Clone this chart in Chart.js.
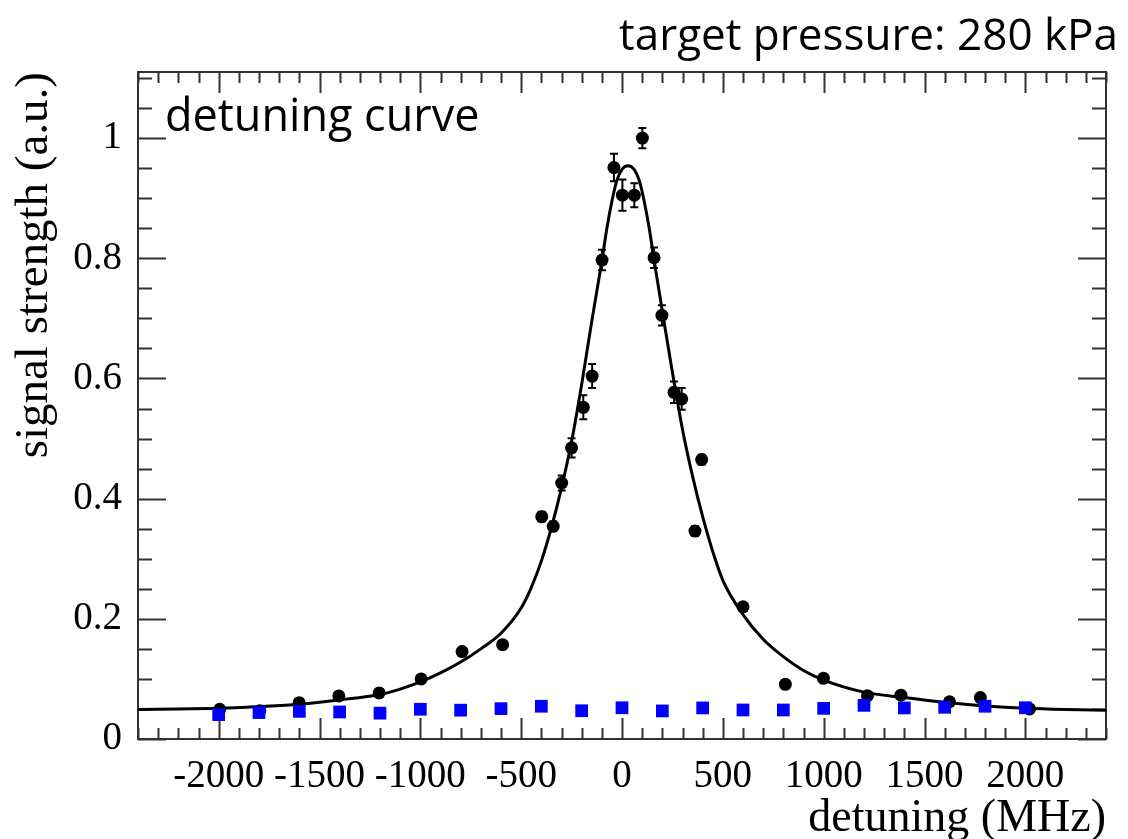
<!DOCTYPE html>
<html>
<head>
<meta charset="utf-8">
<script src="https://cdn.jsdelivr.net/npm/chart.js@4.4.0/dist/chart.umd.min.js"></script>
<style>
  html, body { margin: 0; padding: 0; background: #fff; }
  #wrap { width: 1128px; height: 839px; }
</style>
</head>
<body>
<div id="wrap"><canvas id="chart" width="1128" height="839"></canvas></div>
<script>
// measured points (black, with errors)
const blackFreq = [-1995, -1796, -1601, -1404, -1204, -996, -793, -592, -398, -341, -299, -250, -192, -148, -99, -40, 2, 61, 101, 159, 198, 258, 296, 362, 395, 600, 810, 999, 1217, 1383, 1624, 1777, 2021];
const blackSignal = [0.0495, 0.047, 0.0605, 0.0717, 0.0767, 0.100, 0.1455, 0.157, 0.370, 0.354, 0.426, 0.4845, 0.552, 0.604, 0.797, 0.951, 0.905, 0.905, 1.000, 0.801, 0.705, 0.577, 0.566, 0.346, 0.465, 0.220, 0.091, 0.101, 0.072, 0.073, 0.062, 0.069, 0.050];
const blackErr = [0.005, 0.005, 0.005, 0.005, 0.005, 0.006, 0.006, 0.006, 0.008, 0.008, 0.0125, 0.016, 0.02, 0.02, 0.017, 0.023, 0.026, 0.02, 0.017, 0.017, 0.017, 0.018, 0.018, 0.008, 0.008, 0.006, 0.006, 0.006, 0.005, 0.005, 0.005, 0.005, 0.005];

// background points (blue squares)
const blueFreq = [-2000, -1800, -1600, -1400, -1200, -1000, -800, -600, -400, -200, 0, 200, 400, 600, 800, 1000, 1200, 1400, 1600, 1800, 2000];
const blueSignal = [0.0405, 0.044, 0.046, 0.045, 0.043, 0.0495, 0.048, 0.0505, 0.0545, 0.047, 0.052, 0.0467, 0.0517, 0.0483, 0.0483, 0.051, 0.056, 0.0517, 0.0528, 0.0545, 0.052];

// fit curve
const fitFreq = [-2400, -2200, -2000, -1800, -1600, -1400, -1200, -1100, -1000, -900, -800, -700, -600, -500, -450, -400, -350, -300, -250, -200, -150, -100, -75, -50, -25, 0, 30, 60, 85, 110, 135, 160, 200, 250, 300, 350, 400, 450, 500, 600, 700, 800, 900, 1000, 1200, 1400, 1600, 1800, 2000, 2200, 2400];
const fitSignal = [0.049, 0.050, 0.051, 0.054, 0.058, 0.065, 0.074, 0.083, 0.095, 0.110, 0.128, 0.150, 0.176, 0.218, 0.252, 0.296, 0.352, 0.418, 0.495, 0.590, 0.695, 0.795, 0.850, 0.895, 0.930, 0.948, 0.954, 0.948, 0.930, 0.895, 0.850, 0.795, 0.712, 0.610, 0.515, 0.437, 0.370, 0.312, 0.264, 0.207, 0.166, 0.137, 0.114, 0.098, 0.078, 0.069, 0.061, 0.055, 0.051, 0.049, 0.048];

const xTickValues = [-2000, -1500, -1000, -500, 0, 500, 1000, 1500, 2000];
const yTickValues = [0, 0.2, 0.4, 0.6, 0.8, 1];
const yTickLabels = ['0', '0.2', '0.4', '0.6', '0.8', '1'];

const serif = 'Liberation Serif';
const sans = '"Open Sans", "Noto Sans", sans-serif';

// ROOT style frame with inward ticks on all four sides
const frameTicks = {
    id: 'frameTicks',
    beforeDatasetsDraw(chart) {
        const { ctx, chartArea: a, scales: { x, y } } = chart;
        ctx.save();
        ctx.strokeStyle = '#333';
        ctx.lineWidth = 2;
        ctx.strokeRect(a.left, a.top, a.right - a.left, a.bottom - a.top);
        ctx.beginPath();
        for (let v = -2400; v <= 2400; v += 100) {
            const px = Math.round(x.getPixelForValue(v)) + 0.5;
            const len = v % 500 === 0 ? 21 : 11;
            ctx.moveTo(px, a.bottom); ctx.lineTo(px, a.bottom - len);
            ctx.moveTo(px, a.top); ctx.lineTo(px, a.top + len);
        }
        for (let k = 0; k <= 22; k++) {
            const py = Math.round(y.getPixelForValue(k * 0.05)) + 0.5;
            const len = k % 4 === 0 ? 28 : 14;
            ctx.moveTo(a.left, py); ctx.lineTo(a.left + len, py);
            ctx.moveTo(a.right, py); ctx.lineTo(a.right - len, py);
        }
        ctx.stroke();

        // error bars for black points
        ctx.strokeStyle = '#000';
        ctx.lineWidth = 2;
        ctx.beginPath();
        blackFreq.forEach((f, i) => {
            const px = x.getPixelForValue(f);
            const yTop = y.getPixelForValue(blackSignal[i] + blackErr[i]);
            const yBot = y.getPixelForValue(blackSignal[i] - blackErr[i]);
            ctx.moveTo(px, yTop); ctx.lineTo(px, yBot);
            ctx.moveTo(px - 4, yTop); ctx.lineTo(px + 4, yTop);
            ctx.moveTo(px - 4, yBot); ctx.lineTo(px + 4, yBot);
        });
        ctx.stroke();
        ctx.restore();
    },
    afterDraw(chart) {
        const { ctx } = chart;
        ctx.save();
        ctx.fillStyle = '#000';
        ctx.textBaseline = 'alphabetic';
        ctx.font = '44px ' + sans;
        ctx.textAlign = 'right';
        ctx.fillText('target pressure: 280 kPa', 1118, 50);
        ctx.font = '45px ' + sans;
        ctx.textAlign = 'left';
        ctx.fillText('detuning curve', 165, 131);
        ctx.restore();
    }
};

new Chart(document.getElementById('chart'), {
    data: {
        datasets: [
            {
                type: 'scatter',
                label: 'background',
                data: blueFreq.map((f, i) => ({ x: f, y: blueSignal[i] })),
                pointStyle: 'rect',
                pointRadius: 9,
                backgroundColor: '#0000ff',
                borderColor: '#0000ff',
                borderWidth: 0
            },
            {
                type: 'scatter',
                label: 'signal',
                data: blackFreq.map((f, i) => ({ x: f, y: blackSignal[i] })),
                pointStyle: 'circle',
                pointRadius: 6.5,
                backgroundColor: '#000',
                borderColor: '#000',
                borderWidth: 0
            },
            {
                type: 'line',
                label: 'fit',
                data: fitFreq.map((f, i) => ({ x: f, y: fitSignal[i] })),
                borderColor: '#000',
                borderWidth: 3,
                pointRadius: 0,
                fill: false,
                cubicInterpolationMode: 'monotone'
            }
        ]
    },
    options: {
        responsive: false,
        animation: false,
        devicePixelRatio: 1,
        layout: { padding: { left: 0, right: 22, top: 72, bottom: 0 } },
        plugins: { legend: { display: false }, tooltip: { enabled: false } },
        scales: {
            x: {
                type: 'linear',
                min: -2400,
                max: 2400,
                grid: { display: false },
                border: { display: false },
                afterBuildTicks: s => { s.ticks = xTickValues.map(v => ({ value: v })); },
                afterFit: s => { s.height = 100; },
                ticks: {
                    font: { family: serif, size: 39 },
                    color: '#000',
                    padding: 6,
                    maxRotation: 0,
                    autoSkip: false,
                    callback: v => String(v)
                },
                title: {
                    display: true,
                    text: 'detuning (MHz)',
                    align: 'end',
                    color: '#000',
                    font: { family: serif, size: 46, lineHeight: 1 },
                    padding: { top: 0, bottom: -3 }
                }
            },
            y: {
                type: 'linear',
                min: 0,
                max: 1.11,
                grid: { display: false },
                border: { display: false },
                afterBuildTicks: s => { s.ticks = yTickValues.map(v => ({ value: v })); },
                afterFit: s => { s.width = 138; },
                ticks: {
                    font: { family: serif, size: 39 },
                    color: '#000',
                    padding: 8,
                    callback: v => yTickLabels[yTickValues.indexOf(v)]
                },
                title: {
                    display: true,
                    text: 'signal strength (a.u.)',
                    align: 'end',
                    color: '#000',
                    font: { family: serif, size: 47, lineHeight: 1 },
                    padding: { top: 11, bottom: 0 }
                }
            }
        }
    },
    plugins: [frameTicks]
});
</script>
</body>
</html>
